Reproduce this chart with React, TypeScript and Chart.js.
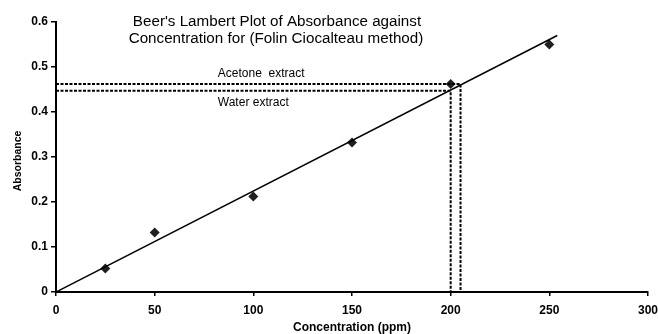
import React, { useEffect, useRef } from "react";
import { Chart, registerables } from "chart.js";

Chart.register(...registerables);

// Standards: concentration (ppm) vs measured absorbance
const concentration = [25, 50, 100, 150, 200, 250];
const absorbance = [0.052, 0.132, 0.212, 0.332, 0.462, 0.55];

// Fitted calibration line (through the origin)
const fitX = [0, 254];
const fitY = [0, 0.57];

// Sample readings read back against the calibration line
const acetoneAbs = 0.462;
const acetoneConc = 205;
const waterAbs = 0.447;
const waterConc = 200;

const xTicks = [0, 50, 100, 150, 200, 250, 300];
const yTicks = [0, 0.1, 0.2, 0.3, 0.4, 0.5, 0.6];

const titleLines = [
  "Beer's Lambert Plot of Absorbance against",
  "Concentration for (Folin Ciocalteau method)",
];
const xTitle = "Concentration (ppm)";
const yTitle = "Absorbance";
const acetoneLabel = "Acetone  extract";
const waterLabel = "Water extract";
const labelX = 82;

const FONT = "'Liberation Sans', Arial, Helvetica, sans-serif";

const textPlugin = {
  id: "textOverlay",
  afterDraw(chart: any) {
    const ctx = chart.ctx;
    const xs = chart.scales.x;
    const ys = chart.scales.y;
    const area = chart.chartArea;
    ctx.save();
    ctx.fillStyle = "#000";

    // Title
    ctx.font = `15.2px ${FONT}`;
    ctx.textAlign = "center";
    ctx.textBaseline = "middle";
    ctx.fillText(titleLines[0], 277, 21.5);
    ctx.fillText(titleLines[1], 276, 38.5);

    // Sample labels
    ctx.font = `12px ${FONT}`;
    ctx.textAlign = "left";
    const lx = xs.getPixelForValue(labelX);
    ctx.fillText(acetoneLabel, lx, ys.getPixelForValue(acetoneAbs) - 10);
    ctx.fillText(waterLabel, lx, ys.getPixelForValue(waterAbs) + 12);

    // Axis titles
    ctx.font = `bold 12px ${FONT}`;
    ctx.textAlign = "center";
    ctx.fillText(xTitle, (area.left + area.right) / 2, 328);
    ctx.font = `bold 10.5px ${FONT}`;
    ctx.translate(18, 161);
    ctx.rotate(-Math.PI / 2);
    ctx.fillText(yTitle, 0, 0);
    ctx.restore();
  },
};

export default function App() {
  const canvasRef = useRef<HTMLCanvasElement | null>(null);

  useEffect(() => {
    const canvas = canvasRef.current;
    if (!canvas) return;

    const dashed = (conc: number, abs: number) => [
      { x: 0, y: abs },
      { x: conc, y: abs },
      { x: conc, y: 0 },
    ];

    const chart = new Chart(canvas, {
      type: "scatter",
      data: {
        datasets: [
          {
            type: "line",
            data: dashed(acetoneConc, acetoneAbs),
            borderColor: "#000",
            borderWidth: 2,
            borderDash: [3, 1.5],
            pointRadius: 0,
            fill: false,
          },
          {
            type: "line",
            data: dashed(waterConc, waterAbs),
            borderColor: "#000",
            borderWidth: 2,
            borderDash: [3, 1.5],
            pointRadius: 0,
            fill: false,
          },
          {
            type: "line",
            data: fitX.map((x, i) => ({ x, y: fitY[i] })),
            borderColor: "#000",
            borderWidth: 1.5,
            pointRadius: 0,
            fill: false,
          },
          {
            data: concentration.map((x, i) => ({ x, y: absorbance[i] })),
            pointStyle: "rectRot",
            pointRadius: 5,
            backgroundColor: "#231f20",
            borderColor: "#231f20",
            borderWidth: 0,
          },
        ],
      },
      options: {
        animation: false,
        responsive: false,
        events: [],
        layout: { padding: { top: 22, right: 10, left: 0, bottom: 0 } },
        plugins: {
          legend: { display: false },
          tooltip: { enabled: false },
          title: { display: false },
        },
        scales: {
          x: {
            type: "linear",
            min: 0,
            max: 300,
            afterFit: (s: any) => {
              s.height = 42;
              s.paddingLeft = 0;
              s.paddingRight = 0;
            },
            afterBuildTicks: (s: any) => {
              s.ticks = xTicks.map((v) => ({ value: v }));
            },
            border: { color: "#000", width: 2 },
            grid: {
              drawOnChartArea: false,
              color: "#000",
              lineWidth: 1.5,
              tickLength: 4,
            },
            ticks: {
              color: "#000",
              padding: 7,
              maxRotation: 0,
              font: { family: FONT, size: 12, weight: "bold" },
              callback: (v: any) => String(v),
            },
          },
          y: {
            type: "linear",
            min: 0,
            max: 0.6,
            afterFit: (s: any) => {
              s.width = 56;
              s.paddingTop = 0;
              s.paddingBottom = 0;
            },
            afterBuildTicks: (s: any) => {
              s.ticks = yTicks.map((v) => ({ value: v }));
            },
            border: { color: "#000", width: 2 },
            grid: {
              drawOnChartArea: false,
              color: "#000",
              lineWidth: 1.5,
              tickLength: 5,
            },
            ticks: {
              color: "#000",
              padding: 3,
              font: { family: FONT, size: 12, weight: "bold" },
              callback: (v: any) => String(Math.round(Number(v) * 10) / 10),
            },
          },
        },
      },
      plugins: [textPlugin],
    } as any);

    return () => chart.destroy();
  }, []);

  return (
    <div style={{ position: "fixed", left: 0, top: 0, width: 658, height: 334, background: "#fff" }}>
      <canvas ref={canvasRef} width={658} height={334} style={{ display: "block" }} />
    </div>
  );
}
